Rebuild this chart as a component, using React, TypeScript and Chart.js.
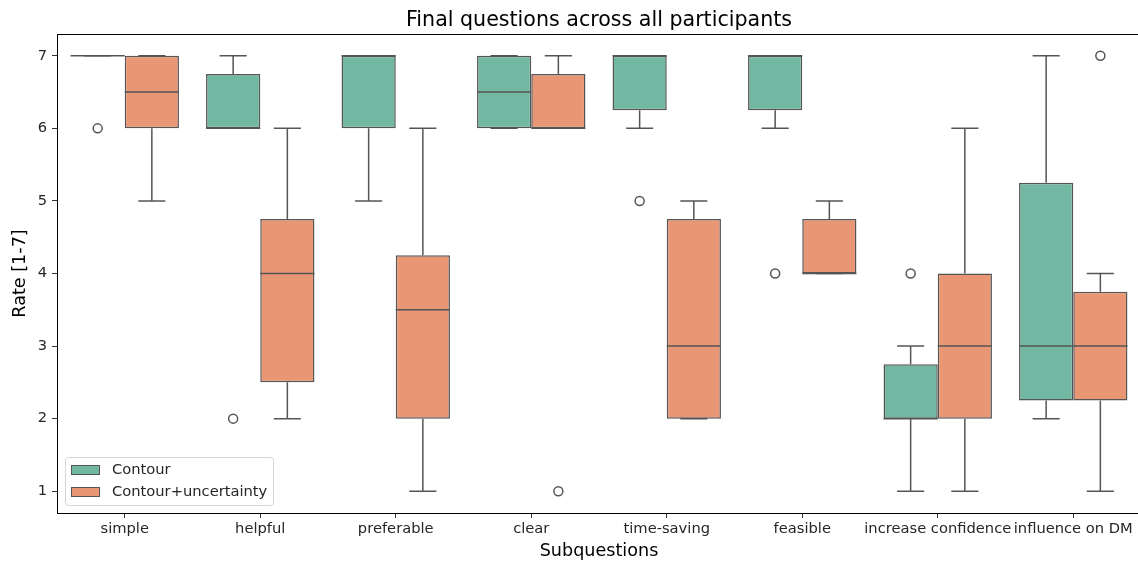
import { useEffect, useRef } from "react";
import { Chart, registerables } from "chart.js";

Chart.register(...registerables);

// Question categories along the x axis
const categories = [
  "simple",
  "helpful",
  "preferable",
  "clear",
  "time-saving",
  "feasible",
  "increase confidence",
  "influence on DM",
];
const seriesNames = ["Contour", "Contour+uncertainty"];
const chartTitle = "Final questions across all participants";

// Box summaries for "Contour"
const contourLow = [7, 6, 5, 6, 6, 6, 1, 2];
const contourQ1 = [7, 6, 6, 6, 6.25, 6.25, 2, 2.25];
const contourMedian = [7, 6, 7, 6.5, 7, 7, 2, 3];
const contourQ3 = [7, 6.75, 7, 7, 7, 7, 2.75, 5.25];
const contourHigh = [7, 7, 7, 7, 7, 7, 3, 7];
const contourOutliers = [[6], [2], [], [], [5], [4], [4], []];

// Box summaries for "Contour+uncertainty"
const uncLow = [5, 2, 1, 6, 2, 4, 1, 1];
const uncQ1 = [6, 2.5, 2, 6, 2, 4, 2, 2.25];
const uncMedian = [6.5, 4, 3.5, 6, 3, 4, 3, 3];
const uncQ3 = [7, 4.75, 4.25, 6.75, 4.75, 4.75, 4, 3.75];
const uncHigh = [7, 6, 6, 7, 5, 5, 6, 4];
const uncOutliers = [[], [], [], [1], [], [], [], [7]];

const yTicks = [1, 2, 3, 4, 5, 6, 7];

const FILLS = ["#72b7a1", "#e99675"];
const LINE = "#555555";
const LW = 1.5;
const FONT = "'DejaVu Sans', sans-serif";
const TICK_SIZE = 14.7;
const LABEL_SIZE = 17.6;
const TITLE_SIZE = 20.6;

const summaries = [
  { low: contourLow, med: contourMedian, high: contourHigh, out: contourOutliers },
  { low: uncLow, med: uncMedian, high: uncHigh, out: uncOutliers },
];

const boxParts = {
  id: "boxParts",
  beforeDatasetsDraw(chart: any) {
    const { ctx } = chart;
    const y = chart.scales.y;
    ctx.save();
    ctx.strokeStyle = LINE;
    ctx.lineWidth = LW;
    summaries.forEach((s, d) => {
      const meta = chart.getDatasetMeta(d);
      meta.data.forEach((bar: any, i: number) => {
        const [q1, q3] = chart.data.datasets[d].data[i];
        const x = bar.x;
        const half = bar.width / 4;
        const pLow = y.getPixelForValue(s.low[i]);
        const pHigh = y.getPixelForValue(s.high[i]);
        const pQ1 = y.getPixelForValue(q1);
        const pQ3 = y.getPixelForValue(q3);
        ctx.beginPath();
        ctx.moveTo(x, pQ1);
        ctx.lineTo(x, pLow);
        ctx.moveTo(x, pQ3);
        ctx.lineTo(x, pHigh);
        ctx.moveTo(x - half, pLow);
        ctx.lineTo(x + half, pLow);
        ctx.moveTo(x - half, pHigh);
        ctx.lineTo(x + half, pHigh);
        ctx.stroke();
      });
    });
    ctx.restore();
  },
  afterDatasetsDraw(chart: any) {
    const { ctx, chartArea } = chart;
    const y = chart.scales.y;
    ctx.save();
    ctx.strokeStyle = LINE;
    ctx.lineWidth = LW;
    summaries.forEach((s, d) => {
      const meta = chart.getDatasetMeta(d);
      meta.data.forEach((bar: any, i: number) => {
        const x = bar.x;
        const w = bar.width;
        const pm = y.getPixelForValue(s.med[i]);
        ctx.beginPath();
        ctx.moveTo(x - w / 2, pm);
        ctx.lineTo(x + w / 2, pm);
        ctx.stroke();
        s.out[i].forEach((v: number) => {
          ctx.beginPath();
          ctx.arc(x, y.getPixelForValue(v), 4.5, 0, Math.PI * 2);
          ctx.fillStyle = "#ffffff";
          ctx.fill();
          ctx.stroke();
        });
      });
    });
    // axes frame on all four sides
    ctx.strokeStyle = "#000000";
    ctx.lineWidth = 1;
    ctx.strokeRect(
      Math.round(chartArea.left) + 0.5,
      Math.round(chartArea.top) + 0.5,
      Math.round(chartArea.right - chartArea.left),
      Math.round(chartArea.bottom - chartArea.top)
    );

    // title centred over the plot area
    ctx.font = `${TITLE_SIZE}px ${FONT}`;
    ctx.fillStyle = "#000000";
    ctx.textAlign = "center";
    ctx.textBaseline = "alphabetic";
    ctx.fillText(chartTitle, (chartArea.left + chartArea.right) / 2, chartArea.top - 8);

    // legend in the lower-left corner
    const lx = chartArea.left + 8;
    const ly = chartArea.bottom - 56;
    const lw = 208;
    const lh = 48;
    ctx.beginPath();
    ctx.roundRect(lx + 0.5, ly + 0.5, lw, lh, 3);
    ctx.fillStyle = "rgba(255,255,255,0.8)";
    ctx.fill();
    ctx.strokeStyle = "#d6d6d6";
    ctx.stroke();
    ctx.font = `${TICK_SIZE}px ${FONT}`;
    ctx.textAlign = "left";
    ctx.textBaseline = "middle";
    seriesNames.forEach((name, k) => {
      const ry = ly + 8 + k * 22;
      ctx.fillStyle = FILLS[k];
      ctx.fillRect(lx + 6, ry, 29, 10);
      ctx.strokeStyle = LINE;
      ctx.lineWidth = 1;
      ctx.strokeRect(lx + 6.5, ry + 0.5, 28, 9);
      ctx.fillStyle = "#262626";
      ctx.fillText(name, lx + 47, ry + 5);
    });
    ctx.restore();
  },
};

export default function App() {
  const ref = useRef<HTMLCanvasElement | null>(null);

  useEffect(() => {
    if (!ref.current) return;
    const chart = new Chart(ref.current, {
      type: "bar",
      data: {
        labels: categories,
        datasets: [
          {
            label: seriesNames[0],
            data: categories.map((_, i) => [contourQ1[i], contourQ3[i]]),
            backgroundColor: FILLS[0],
            borderColor: LINE,
            borderWidth: LW,
            borderSkipped: false,
            categoryPercentage: 0.8,
            barPercentage: 1,
          },
          {
            label: seriesNames[1],
            data: categories.map((_, i) => [uncQ1[i], uncQ3[i]]),
            backgroundColor: FILLS[1],
            borderColor: LINE,
            borderWidth: LW,
            borderSkipped: false,
            categoryPercentage: 0.8,
            barPercentage: 1,
          },
        ] as any,
      },
      options: {
        animation: false,
        responsive: false,
        devicePixelRatio: 1,
        layout: { padding: { left: 0, right: 5, top: 34, bottom: 0 } },
        plugins: {
          legend: { display: false },
          tooltip: { enabled: false },
          title: { display: false },
        },
        scales: {
          x: {
            type: "category",
            offset: true,
            afterFit: (s: any) => {
              s.height = 49;
            },
            grid: {
              display: true,
              offset: false,
              drawOnChartArea: false,
              drawTicks: true,
              tickLength: 5,
              color: "#333333",
            },
            border: { display: true, color: "#000000" },
            ticks: {
              autoSkip: false,
              maxRotation: 0,
              minRotation: 0,
              color: "#262626",
              padding: 2,
              font: { family: FONT, size: TICK_SIZE },
            },
            title: {
              display: true,
              text: "Subquestions",
              color: "#000000",
              font: { family: FONT, size: LABEL_SIZE },
              padding: { top: 0, bottom: 0 },
            },
          },
          y: {
            type: "linear",
            min: 0.7,
            max: 7.3,
            afterFit: (s: any) => {
              s.width = 57;
            },
            afterBuildTicks: (s: any) => {
              s.ticks = yTicks.map((v) => ({ value: v }));
            },
            grid: {
              display: true,
              drawOnChartArea: false,
              drawTicks: true,
              tickLength: 5,
              color: "#333333",
            },
            border: { display: true, color: "#000000" },
            ticks: {
              color: "#262626",
              padding: 5,
              font: { family: FONT, size: TICK_SIZE },
            },
            title: {
              display: true,
              text: "Rate [1-7]",
              color: "#000000",
              font: { family: FONT, size: LABEL_SIZE },
              padding: { top: 9.5, bottom: 0 },
            },
          },
        },
      },
      plugins: [boxParts],
    });
    return () => chart.destroy();
  }, []);

  return (
    <div
      style={{
        position: "fixed",
        left: 0,
        top: 0,
        width: 1138,
        height: 562,
        overflow: "hidden",
        background: "#ffffff",
      }}
    >
      <canvas ref={ref} width={1146} height={562} style={{ display: "block" }} />
    </div>
  );
}
